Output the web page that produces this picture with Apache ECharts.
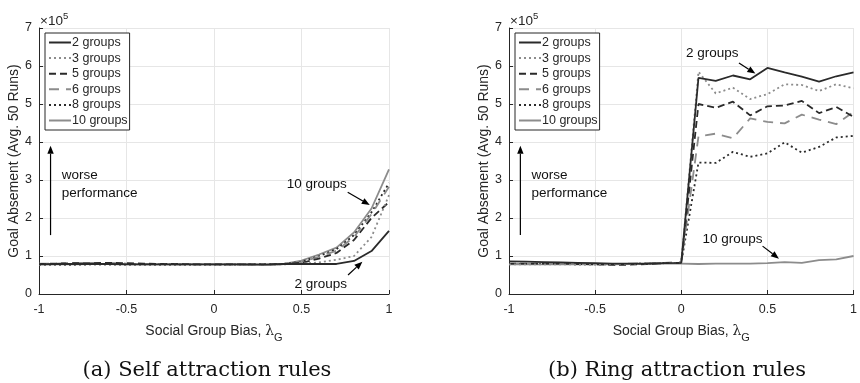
<!DOCTYPE html>
<html><head><meta charset="utf-8">
<script src="https://cdn.jsdelivr.net/npm/echarts@6/dist/echarts.min.js"></script>
<style>html,body{margin:0;padding:0;background:#fff}#c{width:860px;height:383px}</style>
</head><body><div id="c"></div>
<script>
// x values (social group bias)
const xs = [-1,-0.9,-0.8,-0.7,-0.6,-0.5,-0.4,-0.3,-0.2,-0.1,0,0.1,0.2,0.3,0.4,0.5,0.6,0.7,0.8,0.9,1];
const names = ['2 groups','3 groups','5 groups','6 groups','8 groups','10 groups'];
const xTicks = ['-1','-0.5','0','0.5','1'];
const yTicks = ['0','1','2','3','4','5','6','7'];
// (a) Self attraction rules, values in units of 1e5
const selfG2  = [0.78,0.79,0.79,0.79,0.79,0.78,0.78,0.78,0.78,0.78,0.78,0.78,0.78,0.78,0.79,0.79,0.79,0.79,0.87,1.13,1.66];
const selfG3  = [0.77,0.77,0.78,0.78,0.77,0.76,0.76,0.77,0.77,0.77,0.77,0.77,0.77,0.77,0.78,0.80,0.83,0.90,1.00,1.50,2.60];
const selfG5  = [0.79,0.80,0.81,0.81,0.82,0.81,0.80,0.79,0.79,0.78,0.78,0.78,0.78,0.78,0.79,0.82,0.93,1.08,1.42,2.00,2.42];
const selfG6  = [0.80,0.80,0.82,0.82,0.82,0.80,0.79,0.79,0.78,0.78,0.78,0.78,0.77,0.76,0.79,0.84,0.98,1.14,1.50,2.10,2.82];
const selfG8  = [0.77,0.77,0.77,0.78,0.78,0.78,0.77,0.77,0.77,0.77,0.77,0.77,0.78,0.78,0.79,0.85,1.00,1.18,1.55,2.15,2.92];
const selfG10 = [0.78,0.78,0.78,0.79,0.79,0.79,0.78,0.78,0.78,0.78,0.78,0.78,0.77,0.76,0.79,0.88,1.04,1.22,1.62,2.25,3.28];
// (b) Ring attraction rules, values in units of 1e5
const ringG2  = [0.86,0.85,0.84,0.83,0.82,0.81,0.80,0.80,0.80,0.81,0.82,5.69,5.61,5.75,5.65,5.95,5.83,5.72,5.59,5.73,5.83];
const ringG3  = [0.78,0.78,0.78,0.78,0.78,0.79,0.79,0.79,0.80,0.81,0.82,5.85,5.28,5.43,5.13,5.26,5.52,5.50,5.34,5.52,5.41];
const ringG5  = [0.80,0.80,0.80,0.80,0.79,0.78,0.77,0.77,0.79,0.81,0.82,5.00,4.90,5.06,4.70,4.94,4.96,5.08,4.76,4.92,4.66];
const ringG6  = [0.79,0.79,0.79,0.79,0.79,0.79,0.79,0.80,0.81,0.82,0.84,4.15,4.22,4.10,4.62,4.53,4.49,4.72,4.59,4.47,4.79];
const ringG8  = [0.79,0.79,0.79,0.79,0.78,0.78,0.78,0.79,0.80,0.81,0.82,3.46,3.45,3.74,3.61,3.70,3.99,3.72,3.87,4.12,4.16];
const ringG10 = [0.78,0.78,0.78,0.78,0.78,0.78,0.78,0.79,0.79,0.80,0.80,0.79,0.80,0.80,0.80,0.81,0.84,0.82,0.89,0.91,1.00];

const selfData = [selfG2,selfG3,selfG5,selfG6,selfG8,selfG10];
const ringData = [ringG2,ringG3,ringG5,ringG6,ringG8,ringG10];

const DARK = '#2a2a2a', GRAY = '#8c8c8c', TXT = '#262626';
const styles = [
  {color: DARK, type: 'solid'},
  {color: GRAY, type: [2,3]},
  {color: DARK, type: [7,4]},
  {color: GRAY, type: [10,7]},
  {color: DARK, type: [2,3]},
  {color: GRAY, type: 'solid'}
];
const FONT = 'Liberation Sans';

function makeSeries(dataSets, gi) {
  return dataSets.map((arr, k) => ({
    name: names[k], type: 'line', xAxisIndex: gi, yAxisIndex: gi,
    symbol: 'none', showSymbol: false, animation: false,
    lineStyle: {color: styles[k].color, type: styles[k].type, width: 1.8},
    itemStyle: {color: styles[k].color},
    z: 10 - k,
    data: xs.map((x, i) => [x, arr[i]])
  }));
}

const grids = [
  {left: 39, right: 471, top: 28, bottom: 89},
  {left: 509, right: 1, top: 28, bottom: 89}
];
function xAxis(gi) {
  return {gridIndex: gi, type: 'value', min: -1, max: 1, interval: 0.5,
    axisLine: {show: true, onZero: false, lineStyle: {color: TXT, width: 1}},
    axisTick: {show: true, inside: true, length: 4, lineStyle: {color: TXT}},
    axisLabel: {color: TXT, fontFamily: FONT, fontSize: 12.5, margin: 9,
      formatter: v => xTicks[Math.round((v + 1) / 0.5)]},
    splitLine: {show: true, lineStyle: {color: '#e6e6e6', width: 1}},
    name: 'Social Group Bias, {l|λ}{s|G}', nameLocation: 'middle', nameGap: 26,
    nameTextStyle: {color: TXT, fontFamily: FONT, fontSize: 14,
      rich: {l: {fontFamily: 'DejaVu Serif', fontSize: 14, color: TXT},
             s: {fontFamily: FONT, fontSize: 11, color: TXT, padding: [12,0,0,0]}}}
  };
}
function yAxis(gi) {
  return {gridIndex: gi, type: 'value', min: 0, max: 7, interval: 1,
    axisLine: {show: true, onZero: false, lineStyle: {color: TXT, width: 1}},
    axisTick: {show: true, inside: true, length: 4, lineStyle: {color: TXT}},
    axisLabel: {color: TXT, fontFamily: FONT, fontSize: 12.5, margin: 7,
      formatter: v => yTicks[Math.round(v)]},
    splitLine: {show: true, lineStyle: {color: '#e6e6e6', width: 1}},
    name: 'Goal Absement (Avg. 50 Runs)', nameLocation: 'middle', nameGap: 13,
    nameTextStyle: {color: TXT, fontFamily: FONT, fontSize: 14}
  };
}
function legend(left) {
  return {orient: 'vertical', left: left, top: 33, data: names,
    itemWidth: 22, itemHeight: 12, itemGap: 2.6,
    itemStyle: {opacity: 0},
    borderColor: TXT, borderWidth: 1, borderRadius: 0, padding: [3, 2, 3, 3],
    backgroundColor: '#fff', selectedMode: false,
    textStyle: {color: TXT, fontFamily: FONT, fontSize: 12.5, padding: [0,0,0,-4]}};
}

const chart = echarts.init(document.getElementById('c'), null, {renderer: 'canvas'});
chart.setOption({
  animation: false,
  backgroundColor: '#fff',
  grid: grids,
  xAxis: [xAxis(0), xAxis(1)],
  yAxis: [yAxis(0), yAxis(1)],
  legend: [legend(45), legend(515)],
  series: makeSeries(selfData, 0).concat(makeSeries(ringData, 1))
});

// annotations in data coordinates: [gridIndex, text, textX, textY, tailX, tailY, tipX, tipY]
const notes = [
  [0, '10 groups', 0.587, 2.89, 0.764, 2.68, 0.89, 2.34],
  [0, '2 groups', 0.61, 0.26, 0.766, 0.50, 0.848, 0.85],
  [1, '2 groups', 0.18, 6.34, 0.335, 6.08, 0.43, 5.80],
  [1, '10 groups', 0.297, 1.45, 0.472, 1.26, 0.567, 0.93]
];
const g = [];
function arrow(p1, p2) {
  const dx = p2[0]-p1[0], dy = p2[1]-p1[1], L = Math.hypot(dx, dy);
  const ux = dx/L, uy = dy/L, hl = 8, hw = 3.2;
  const bx = p2[0]-ux*hl, by = p2[1]-uy*hl;
  g.push({type: 'line', shape: {x1: p1[0], y1: p1[1], x2: bx, y2: by}, style: {stroke: '#000', lineWidth: 1.2}, z: 50});
  g.push({type: 'polygon', shape: {points: [[p2[0],p2[1]],[bx - uy*hw, by + ux*hw],[bx + uy*hw, by - ux*hw]]}, style: {fill: '#000'}, z: 50});
}
notes.forEach(n => {
  const t = chart.convertToPixel({gridIndex: n[0]}, [n[2], n[3]]);
  g.push({type: 'text', x: t[0], y: t[1], z: 50, style: {text: n[1], fill: '#111', font: '13.5px "Liberation Sans"', textAlign: 'center', textVerticalAlign: 'middle'}});
  arrow(chart.convertToPixel({gridIndex: n[0]}, [n[4], n[5]]), chart.convertToPixel({gridIndex: n[0]}, [n[6], n[7]]));
});
[0, 1].forEach(gi => {
  arrow(chart.convertToPixel({gridIndex: gi}, [-0.934, 1.55]), chart.convertToPixel({gridIndex: gi}, [-0.934, 3.9]));
  const p = chart.convertToPixel({gridIndex: gi}, [-0.87, 2.88]);
  g.push({type: 'text', x: p[0], y: p[1], z: 50, style: {text: 'worse\nperformance', fill: '#111', font: '13.5px "Liberation Sans"', lineHeight: 18, textAlign: 'left', textVerticalAlign: 'middle'}});
  const q = chart.convertToPixel({gridIndex: gi}, [-1, 7]);
  g.push({type: 'text', x: q[0] + 1, y: q[1] - 7, z: 50, style: {text: '×10{s|5}', fill: TXT, font: '13.5px "Liberation Sans"', textVerticalAlign: 'middle', rich: {s: {fontSize: 9.5, fontFamily: 'Liberation Sans', fill: TXT, padding: [0,0,9,0]}}}});
});
g.push({type: 'text', x: 207, y: 371, style: {text: '(a) Self attraction rules', fill: '#111', font: '21px "DejaVu Serif"', textAlign: 'center', textVerticalAlign: 'middle'}});
g.push({type: 'text', x: 677, y: 371, style: {text: '(b) Ring attraction rules', fill: '#111', font: '21px "DejaVu Serif"', textAlign: 'center', textVerticalAlign: 'middle'}});
chart.setOption({graphic: g});
</script></body></html>
